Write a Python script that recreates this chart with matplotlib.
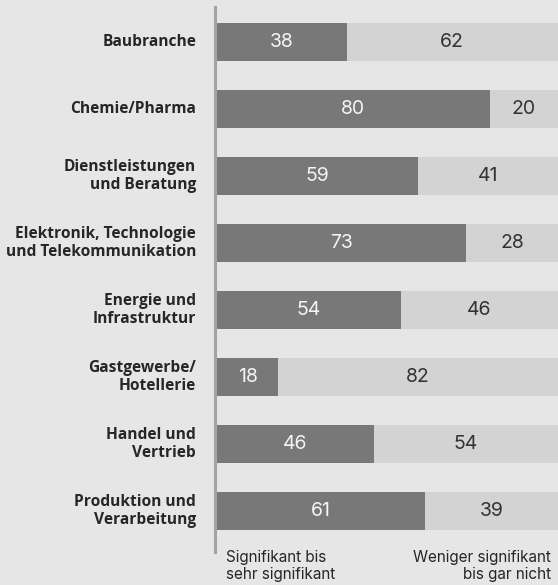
import matplotlib
matplotlib.use("Agg")
import matplotlib.pyplot as plt

BG, DARK, LIGHT, SPINE = "#e6e6e6", "#787878", "#d3d3d3", "#a3a3a3"
INK = "#262626"

CATEGORIES = [
    "Baubranche",
    "Chemie/Pharma",
    "Dienstleistungen\nund Beratung",
    "Elektronik, Technologie\nund Telekommunikation",
    "Energie und\nInfrastruktur",
    "Gastgewerbe/\nHotellerie",
    "Handel und\nVertrieb",
    "Produktion und\nVerarbeitung",
]
SIGNIFICANT = [38, 80, 59, 73, 54, 18, 46, 61]
LESS = [62, 20, 41, 28, 46, 82, 54, 39]
LEGEND = ["Signifikant bis\nsehr signifikant", "Weniger signifikant\nbis gar nicht"]

plt.rcParams["font.family"] = ["Inter", "DejaVu Sans"]

W, H = 558, 585
fig = plt.figure(figsize=(W / 100, H / 100), dpi=100)
fig.patch.set_facecolor(BG)
ax = fig.add_axes([217 / W, 33 / H, 341 / W, 545 / H])
ax.set_facecolor(BG)

ypos = list(range(len(CATEGORIES)))
bh = 0.567
ax.barh(ypos, SIGNIFICANT, height=bh, color=DARK, zorder=2)
ax.barh(ypos, LESS, left=SIGNIFICANT, height=bh, color=LIGHT, zorder=2)

for y, a, b in zip(ypos, SIGNIFICANT, LESS):
    ax.text(a / 2, y, str(a), ha="center", va="center", fontsize=14,
            color="#f4f4f4", zorder=3)
    ax.text(a + min(b, 100 - a) / 2, y, str(b), ha="center", va="center",
            fontsize=14, color="#333333", zorder=3)

ax.set_xlim(0, 100)
ax.set_ylim(7.612, -0.522)
ax.set_xticks([])
ax.set_yticks(ypos)
ax.set_yticklabels([])
ax.tick_params(axis="y", length=0)
for y, lab in zip(ypos, CATEGORIES):
    ax.annotate(lab, (0, y), xycoords=("axes fraction", "data"),
                xytext=(-21, 0), textcoords="offset pixels",
                ha="right", va="center", multialignment="right",
                fontsize=11.2, fontweight="bold", color=INK,
                family=["Open Sans", "Liberation Sans", "DejaVu Sans"],
                linespacing=1.15)
for s in ["top", "right", "bottom"]:
    ax.spines[s].set_visible(False)
ax.spines["left"].set_color(SPINE)
ax.spines["left"].set_linewidth(2.2)
ax.spines["left"].set_position(("outward", 1.5))

fig.text(226 / W, 1 - 550 / H, LEGEND[0], ha="left", va="top", fontsize=11,
         color=INK, linespacing=1.2)
fig.text(551 / W, 1 - 550 / H, LEGEND[1], ha="right", va="top", fontsize=11,
         color=INK, linespacing=1.2, multialignment="right")

fig.savefig("out.png", facecolor=BG)
